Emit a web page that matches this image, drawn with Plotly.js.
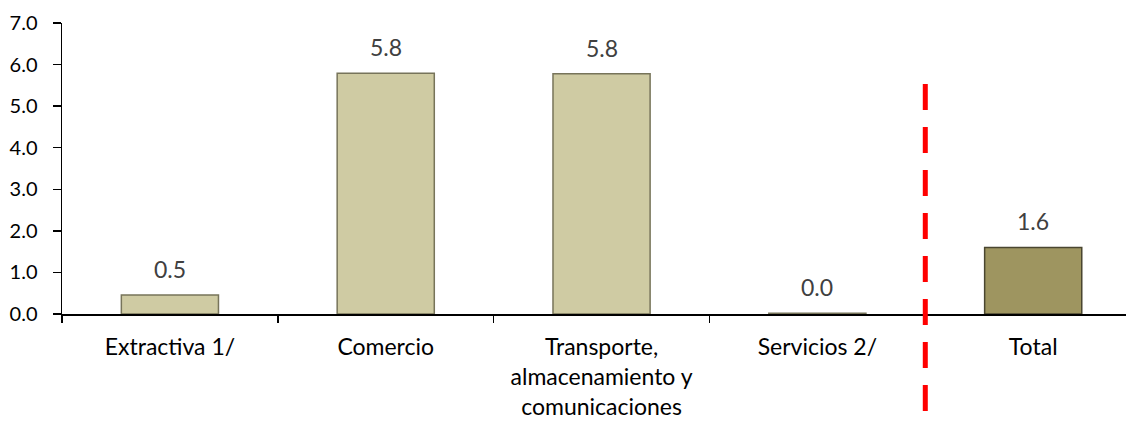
<!DOCTYPE html>
<html>
<head>
<meta charset="utf-8">
<script src="https://cdn.plot.ly/plotly-3.0.1.min.js"></script>
<style>
  html, body { margin: 0; padding: 0; background: #ffffff; }
  #chart { width: 1126px; height: 423px; }
</style>
</head>
<body>
<div id="chart"></div>
<script>
const categories = ["Extractiva 1/", "Comercio", "Transporte,<br>almacenamiento y<br>comunicaciones", "Servicios 2/", "Total"];
const values = [0.46, 5.79, 5.78, 0.02, 1.6];
const barColors = ["#CFCBA3", "#CFCBA3", "#CFCBA3", "#CFCBA3", "#9E9560"];
const edgeColors = ["#77745A", "#77745A", "#77745A", "#77745A", "#4A4630"];
const yTicks = [0, 1, 2, 3, 4, 5, 6, 7];
const yTickLabels = ["0.0", "1.0", "2.0", "3.0", "4.0", "5.0", "6.0", "7.0"];
const separatorAt = 3.5;

const FONT = "Lato, 'Liberation Sans', sans-serif";

const trace = {
  type: "bar",
  x: categories,
  y: values,
  width: 0.45,
  marker: { color: barColors, line: { color: edgeColors, width: 1.5 } },
  hoverinfo: "skip"
};

const annotations = categories.map((c, i) => ({
  x: c, y: values[i], xref: "x", yref: "y",
  text: values[i].toFixed(1),
  showarrow: false, yanchor: "middle", yshift: 26,
  font: { family: FONT, size: 23, color: "#404040" }
}));

const layout = {
  width: 1126, height: 423,
  margin: { l: 62, r: 0, t: 23, b: 109 },
  paper_bgcolor: "#ffffff", plot_bgcolor: "#ffffff",
  showlegend: false,
  xaxis: {
    type: "category",
    range: [-0.5, 4.43],
    showline: true, linecolor: "#000000", linewidth: 1.5,
    ticks: "outside", tickson: "boundaries", ticklen: 7, tickcolor: "#000000", tickwidth: 1.5,
    showgrid: false, zeroline: false,
    tickfont: { family: FONT, size: 23, color: "#000000" },
    ticklabelstandoff: 12
  },
  yaxis: {
    range: [0, 7],
    tickvals: yTicks, ticktext: yTickLabels,
    showline: true, linecolor: "#000000", linewidth: 1.5,
    ticks: "outside", ticklen: 8, tickcolor: "#000000", tickwidth: 1.5,
    showgrid: false, zeroline: false,
    tickfont: { family: FONT, size: 20, color: "#000000" },
    ticklabelstandoff: 11
  },
  shapes: [{
    type: "line", xref: "x", yref: "paper",
    x0: separatorAt, x1: separatorAt, y0: 0.79, y1: -0.38,
    line: { color: "#FF0000", width: 5, dash: "26px,17px" }
  }],
  annotations: annotations
};

Plotly.newPlot("chart", [trace], layout, { staticPlot: true, displayModeBar: false });
</script>
</body>
</html>
